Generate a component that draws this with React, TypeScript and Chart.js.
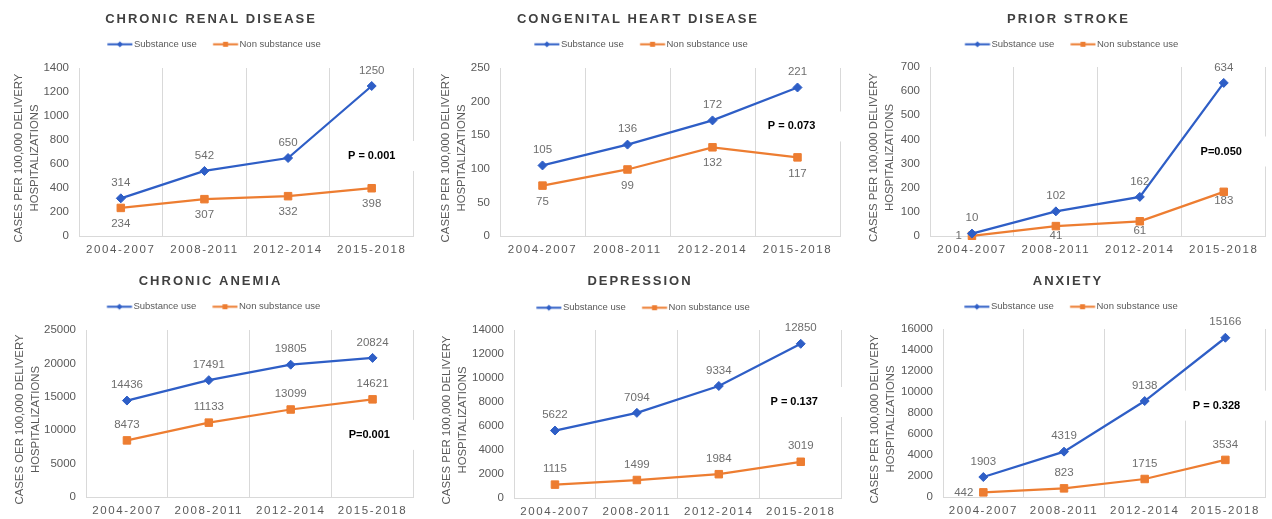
import React, { useEffect, useRef } from 'react';
import { Chart, registerables } from 'chart.js';

Chart.register(...registerables);

// ---------- data ----------
const periods = ['2004-2007', '2008-2011', '2012-2014', '2015-2018'];
const seriesNames = ['Substance use', 'Non substance use'];

const renalSubstance = [314, 542, 650, 1250];
const renalNon = [234, 307, 332, 398];
const heartSubstance = [105, 136, 172, 221];
const heartNon = [75, 99, 132, 117];
const strokeSubstance = [10, 102, 162, 634];
const strokeNon = [1, 41, 61, 183];
const anemiaSubstance = [14436, 17491, 19805, 20824];
const anemiaNon = [8473, 11133, 13099, 14621];
const depressionSubstance = [5622, 7094, 9334, 12850];
const depressionNon = [1115, 1499, 1984, 3019];
const anxietySubstance = [1903, 4319, 9138, 15166];
const anxietyNon = [442, 823, 1715, 3534];

const panelTitles = [
  'CHRONIC RENAL DISEASE',
  'CONGENITAL HEART DISEASE',
  'PRIOR STROKE',
  'CHRONIC ANEMIA',
  'DEPRESSION',
  'ANXIETY',
];
const yTitles = [
  ['CASES PER 100,000 DELIVERY', 'HOSPITALIZATIONS'],
  ['CASES PER 100,000 DELIVERY', 'HOSPITALIZATIONS'],
  ['CASES PER 100,000 DELIVERY', 'HOSPITALIZATIONS'],
  ['CASES OER 100,000 DELIVERY', 'HOSPITALIZATIONS'],
  ['CASES PER 100,000 DELIVERY', 'HOSPITALIZATIONS'],
  ['CASES PER 100,000 DELIVERY', 'HOSPITALIZATIONS'],
];
const yMax = [1400, 250, 700, 25000, 14000, 16000];
const yStep = [200, 50, 100, 5000, 2000, 2000];
const pTexts = ['P = 0.001', 'P = 0.073', 'P=0.050', 'P=0.001', 'P = 0.137', 'P = 0.328'];
const pAtIndex = [3, 2.93, 2.97, 2.96, 2.92, 2.89];
const pAtValue = [667, 163, 350, 9300, 8000, 8700];

const seriesPerPanel = [
  [renalSubstance, renalNon],
  [heartSubstance, heartNon],
  [strokeSubstance, strokeNon],
  [anemiaSubstance, anemiaNon],
  [depressionSubstance, depressionNon],
  [anxietySubstance, anxietyNon],
];

// ---------- presentation (layout / style) ----------
const labelPlacement = [
  [['a', 'a', 'a', 'a'], ['b', 'b', 'b', 'b']],
  [['a', 'a', 'a', 'a'], ['b', 'b', 'b', 'b']],
  [['a', 'a', 'a', 'a'], ['l', 'b', 'b', 'b']],
  [['a', 'a', 'a', 'a'], ['a', 'a', 'a', 'a']],
  [['a', 'a', 'a', 'a'], ['a', 'a', 'a', 'a']],
  [['a', 'a', 'a', 'a'], ['l', 'a', 'a', 'a']],
];
const belowGap = [16, 16, 9.5, 16, 16, 16];

const boxes = [
  { left: 0, top: 0, w: 424, h: 260, plotL: 79, plotR: 413.5, plotT: 68, plotB: 236, titleX: 211, titleY: 19.3, legendY: 44.3, yTitleX: 19 },
  { left: 424, top: 0, w: 424, h: 260, plotL: 76, plotR: 416, plotT: 68, plotB: 236, titleX: 214, titleY: 19, legendY: 44.3, yTitleX: 22 },
  { left: 848, top: 0, w: 424, h: 260, plotL: 82, plotR: 422.5, plotT: 67, plotB: 236, titleX: 220.5, titleY: 19.3, legendY: 44.3, yTitleX: 26 },
  { left: 0, top: 260, w: 424, h: 259, plotL: 86, plotR: 413.5, plotT: 70, plotB: 237, titleX: 210.5, titleY: 21.7, legendY: 46.7, yTitleX: 20 },
  { left: 424, top: 260, w: 424, h: 259, plotL: 90, plotR: 419, plotT: 70, plotB: 238, titleX: 216, titleY: 21.7, legendY: 47.7, yTitleX: 23 },
  { left: 848, top: 260, w: 424, h: 259, plotL: 95, plotR: 421.5, plotT: 69, plotB: 237, titleX: 220, titleY: 21.7, legendY: 46.7, yTitleX: 27 },
];

const FONT = '"Liberation Sans", Arial, Helvetica, sans-serif';
const BLUE = '#2E5EC6';
const ORANGE = '#ED7D31';
const GRID = '#d9d9d9';
const TEXT = '#595959';
const LABEL = '#6e6e6e';

const TITLE_SIZE = 13;
const TITLE_LH = 1.2;
const LEGEND_SIZE = 9.5;
const LEGEND_PAD = 10;
const LEGEND_BOXW = 28;
const YTITLE_SIZE = 11.4;
const YTITLE_LH = 1.4;
const YTITLE_SHIFT = 6;

Chart.defaults.font.family = FONT;

function makeLegendImg(color: string, shape: string) {
  const c = document.createElement('canvas');
  c.width = 36;
  c.height = 9;
  const g = c.getContext('2d') as CanvasRenderingContext2D;
  g.strokeStyle = color;
  g.lineWidth = 2;
  g.beginPath();
  g.moveTo(10.25, 4.5);
  g.lineTo(35.25, 4.5);
  g.stroke();
  g.fillStyle = color;
  const cx = 22.75;
  const cy = 4.5;
  if (shape === 'diamond') {
    g.beginPath();
    g.moveTo(cx, cy - 3);
    g.lineTo(cx + 3, cy);
    g.lineTo(cx, cy + 3);
    g.lineTo(cx - 3, cy);
    g.closePath();
    g.fill();
  } else {
    g.fillRect(cx - 2.5, cy - 2.5, 5, 5);
  }
  return c;
}

function Panel({ index }: { index: number }) {
  const ref = useRef<HTMLCanvasElement | null>(null);
  const b = boxes[index];

  useEffect(() => {
    const canvas = ref.current;
    if (!canvas) return;

    const padL = 2 * b.titleX - b.plotR;
    const padR = b.w - b.plotR;
    const titleLine = TITLE_SIZE * TITLE_LH;
    const titlePadTop = b.titleY - titleLine / 2;
    const legendTop = b.legendY - LEGEND_PAD - LEGEND_SIZE / 2;
    const titlePadBottom = legendTop - b.titleY - titleLine / 2;
    const legendExtra = b.plotT - b.legendY - LEGEND_SIZE / 2 - 10;
    const yTitlePad = b.yTitleX - padL - (YTITLE_SIZE * YTITLE_LH) / 2;

    const legendImgs = [makeLegendImg(BLUE, 'diamond'), makeLegendImg(ORANGE, 'square')];
    const [sub, non] = seriesPerPanel[index];

    const tweaks = {
      id: 'tweaks',
      beforeLayout(chart: any) {
        const lg = chart.legend;
        if (lg && !lg.__patched) {
          const orig = lg.fit;
          lg.fit = function () {
            orig.call(this);
            this.height += legendExtra;
          };
          lg.__patched = true;
        }
      },
      beforeDraw(chart: any) {
        const tb = chart.titleBlock;
        if (tb && !tb.__patched) {
          const orig = tb.draw;
          tb.draw = function (...args: any[]) {
            const ctx = this.ctx;
            ctx.save();
            ctx.letterSpacing = '2px';
            orig.apply(this, args);
            ctx.restore();
          };
          tb.__patched = true;
        }
        const xs = chart.scales.x;
        if (xs && !xs.__patched) {
          const orig = xs.drawLabels;
          xs.drawLabels = function (...args: any[]) {
            const ctx = this.ctx;
            ctx.save();
            ctx.letterSpacing = '1.6px';
            orig.apply(this, args);
            ctx.restore();
          };
          xs.__patched = true;
        }
        const ys = chart.scales.y;
        if (ys && !ys.__patched) {
          const orig = ys.drawTitle;
          ys.drawTitle = function (...args: any[]) {
            const ctx = this.ctx;
            ctx.save();
            ctx.translate(0, YTITLE_SHIFT);
            orig.apply(this, args);
            ctx.restore();
          };
          ys.__patched = true;
        }
      },
    };

    const pBox = {
      id: 'pBox',
      beforeDatasetsDraw(chart: any) {
        const { ctx, chartArea } = chart;
        const x = chart.scales.x.getPixelForValue(pAtIndex[index]);
        const y = chart.scales.y.getPixelForValue(pAtValue[index]);
        ctx.save();
        ctx.font = `bold 11px ${FONT}`;
        const tw = ctx.measureText(pTexts[index]).width;
        const x0 = x - tw / 2 - 8;
        const x1 = Math.max(chartArea.right + 2, x + tw / 2 + 8);
        ctx.fillStyle = '#ffffff';
        ctx.fillRect(x0, y - 15, x1 - x0, 30);
        ctx.fillStyle = '#000000';
        ctx.textAlign = 'center';
        ctx.textBaseline = 'middle';
        ctx.fillText(pTexts[index], x, y);
        ctx.restore();
      },
    };

    const dataLabels = {
      id: 'dataLabels',
      afterDatasetsDraw(chart: any) {
        const { ctx } = chart;
        ctx.save();
        ctx.font = `11.5px ${FONT}`;
        ctx.fillStyle = LABEL;
        ctx.textBaseline = 'middle';
        chart.data.datasets.forEach((ds: any, di: number) => {
          const meta = chart.getDatasetMeta(di);
          meta.data.forEach((pt: any, i: number) => {
            const v = ds.data[i];
            const pos = labelPlacement[index][di][i];
            const txt = String(v);
            if (pos === 'a') {
              ctx.textAlign = 'center';
              ctx.fillText(txt, pt.x, pt.y - 15.5);
            } else if (pos === 'b') {
              ctx.textAlign = 'center';
              ctx.fillText(txt, pt.x, pt.y + belowGap[index]);
            } else {
              ctx.textAlign = 'right';
              ctx.fillText(txt, pt.x - 10, pt.y);
            }
          });
        });
        ctx.restore();
      },
    };

    const chart = new Chart(canvas, {
      type: 'line',
      data: {
        labels: periods,
        datasets: [
          {
            label: seriesNames[0],
            data: sub,
            borderColor: BLUE,
            backgroundColor: BLUE,
            borderWidth: 2.25,
            pointStyle: 'rectRot',
            pointRadius: 4.5,
            pointBackgroundColor: BLUE,
            pointBorderColor: BLUE,
            pointBorderWidth: 1,
            tension: 0,
            clip: false,
          },
          {
            label: seriesNames[1],
            data: non,
            borderColor: ORANGE,
            backgroundColor: ORANGE,
            borderWidth: 2.25,
            pointStyle: 'rect',
            pointRadius: 5.3,
            pointBackgroundColor: ORANGE,
            pointBorderColor: ORANGE,
            pointBorderWidth: 1,
            tension: 0,
            clip: false,
          },
        ],
      },
      options: {
        responsive: false,
        animation: false,
        devicePixelRatio: 1,
        events: [],
        layout: { padding: { left: padL, right: padR, top: 0, bottom: 0 } },
        plugins: {
          title: {
            display: true,
            text: panelTitles[index],
            color: '#404040',
            font: { family: FONT, size: TITLE_SIZE, weight: 'bold', lineHeight: TITLE_LH },
            padding: { top: titlePadTop, bottom: titlePadBottom },
          },
          legend: {
            display: true,
            position: 'top',
            labels: {
              usePointStyle: true,
              pointStyleWidth: LEGEND_BOXW,
              padding: LEGEND_PAD,
              color: TEXT,
              font: { family: FONT, size: LEGEND_SIZE },
              generateLabels: (ch: any) => {
                const items = (Chart.defaults.plugins.legend.labels as any).generateLabels(ch);
                items.forEach((it: any, i: number) => {
                  it.pointStyle = legendImgs[i];
                  it.fontColor = TEXT;
                });
                return items;
              },
            },
          },
          tooltip: { enabled: false },
        },
        scales: {
          x: {
            type: 'category',
            offset: true,
            grid: { display: true, offset: true, color: GRID, lineWidth: 1, drawTicks: false },
            border: { display: true, color: GRID, width: 1 },
            ticks: {
              color: TEXT,
              font: { family: FONT, size: 11.5 },
              padding: 7,
              maxRotation: 0,
              autoSkip: false,
            },
            afterFit: (scale: any) => {
              scale.height = b.h - b.plotB;
            },
          },
          y: {
            min: 0,
            max: yMax[index],
            grid: { display: false, drawTicks: false },
            border: { display: false },
            ticks: {
              stepSize: yStep[index],
              color: TEXT,
              font: { family: FONT, size: 11.5 },
              padding: 10,
              callback: (v: any) => String(v),
            },
            title: {
              display: true,
              text: yTitles[index],
              color: TEXT,
              font: { family: FONT, size: YTITLE_SIZE, lineHeight: YTITLE_LH },
              padding: { top: yTitlePad, bottom: 0 },
            },
            afterFit: (scale: any) => {
              scale.width = b.plotL - padL;
            },
          },
        },
      } as any,
      plugins: [tweaks, pBox, dataLabels],
    });

    return () => {
      chart.destroy();
    };
  }, [index]);

  return (
    <canvas
      ref={ref}
      width={b.w}
      height={b.h}
      style={{ position: 'absolute', left: b.left, top: b.top, width: b.w, height: b.h }}
    />
  );
}

export default function App() {
  return (
    <div
      style={{
        position: 'fixed',
        left: 0,
        top: 0,
        width: 1272,
        height: 519,
        background: '#ffffff',
        overflow: 'hidden',
      }}
    >
      {boxes.map((_, i) => (
        <Panel key={i} index={i} />
      ))}
    </div>
  );
}
